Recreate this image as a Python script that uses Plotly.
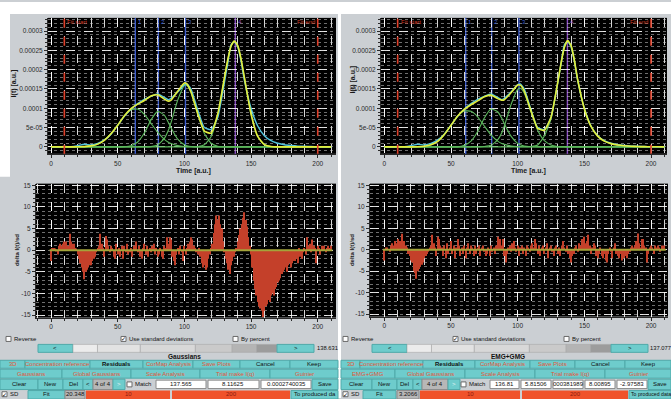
import plotly.graph_objects as go

W, H = 671, 399
FONT = "Liberation Sans"

# ------------------------------------------------------------------ data
TIME = [0, 5, 10, 15, 20, 25, 30, 35, 40, 45,
        50, 55, 60, 65, 70, 75, 80, 85, 88, 90,
        95, 100, 102, 105, 110, 115, 120, 125, 130, 132.5,
        135, 137.5, 140, 142.5, 145, 150, 155, 160, 165, 170,
        175, 180, 185, 190, 195, 200, 205, 210]

# measured intensity (units of 1e-5)
DATA_E5 = [0.05, -0.05, 0.1, 0.05, 0.3, 0.7, 0.5, 0.9, 1.8, 3.3,
           5.6, 7.9, 9.8, 11.2, 12.3, 13.1, 13.7, 12.8, 12.2, 12.6,
           14.2, 16.1, 16.3, 15.0, 9.6, 5.0, 4.5, 7.6, 16.6, 21.5,
           26.4, 27.3, 25.9, 22.2, 17.2, 10.0, 5.4, 2.9, 1.6, 0.95,
           0.55, 0.35, 0.2, 0.15, 0.1, 0.05, 0.05, 0.05]

# Gaussians model (left panel)
FIT_GAUSS_E5 = [0, 0, 0, 0, 0.02, 0.08, 0.26, 0.72, 1.7, 3.4,
                5.6, 8.05, 9.9, 11.06, 12.0, 13.2, 13.5, 12.35, 11.8, 12.1,
                14.4, 16.55, 16.25, 14.2, 8.6, 4.1, 3.55, 8.5, 17.8, 22.5,
                26.1, 27.4, 26.2, 22.8, 18.0, 8.5, 2.7, 0.6, 0.09, 0.01,
                0, 0, 0, 0, 0, 0, 0, 0]
GAUSS_1_E5 = [0, 0, 0, 0, 0.02, 0.08, 0.26, 0.71, 1.68, 3.35,
              5.6, 8.0, 9.6, 9.8, 8.4, 6.1, 3.8, 1.95, 1.2, 0.86,
              0.32, 0.1, 0.06, 0.03, 0, 0, 0, 0, 0, 0,
              0, 0, 0, 0, 0, 0, 0, 0, 0, 0,
              0, 0, 0, 0, 0, 0, 0, 0]
GAUSS_2_E5 = [0, 0, 0, 0, 0, 0, 0, 0, 0, 0,
              0, 0.05, 0.3, 1.26, 3.6, 7.0, 9.2, 8.2, 6.3, 4.95,
              2.0, 0.55, 0.3, 0.1, 0.01, 0, 0, 0, 0, 0,
              0, 0, 0, 0, 0, 0, 0, 0, 0, 0,
              0, 0, 0, 0, 0, 0, 0, 0]
GAUSS_3_E5 = [0, 0, 0, 0, 0, 0, 0, 0, 0, 0,
              0, 0, 0, 0, 0, 0.08, 0.5, 2.2, 4.3, 6.3,
              12.1, 15.9, 15.9, 14.1, 8.5, 3.5, 0.95, 0.18, 0.02, 0,
              0, 0, 0, 0, 0, 0, 0, 0, 0, 0,
              0, 0, 0, 0, 0, 0, 0, 0]
GAUSS_4_E5 = [0, 0, 0, 0, 0, 0, 0, 0, 0, 0,
              0, 0, 0, 0, 0, 0, 0, 0, 0, 0,
              0, 0, 0, 0, 0.08, 0.57, 2.6, 8.3, 17.8, 22.5,
              26.1, 27.4, 26.2, 22.8, 18.0, 8.5, 2.7, 0.6, 0.09, 0.01,
              0, 0, 0, 0, 0, 0, 0, 0]

# EMG+GMG model (right panel)
FIT_EMG_E5 = [0, 0, 0, 0, 0, 0.03, 0.16, 0.55, 1.45, 3.2,
              5.6, 8.0, 9.7, 10.9, 11.9, 13.0, 13.4, 12.5, 12.1, 12.2,
              14.0, 16.0, 16.0, 14.4, 9.3, 4.8, 4.3, 7.7, 16.6, 21.6,
              25.8, 27.5, 26.3, 22.5, 17.4, 9.9, 5.3, 2.8, 1.5, 0.85,
              0.5, 0.3, 0.17, 0.1, 0.06, 0.03, 0.02, 0.01]
EMG_1_E5 = [0, 0, 0, 0, 0, 0.03, 0.16, 0.55, 1.45, 3.2,
            5.6, 8.0, 9.3, 9.2, 7.8, 5.4, 3.1, 1.5, 0.9, 0.65,
            0.25, 0.08, 0.05, 0.02, 0, 0, 0, 0, 0, 0,
            0, 0, 0, 0, 0, 0, 0, 0, 0, 0,
            0, 0, 0, 0, 0, 0, 0, 0]
EMG_2_E5 = [0, 0, 0, 0, 0, 0, 0, 0, 0, 0,
            0, 0, 0.4, 1.5, 4.0, 7.5, 9.8, 9.1, 7.5, 6.0,
            2.8, 0.9, 0.55, 0.22, 0.05, 0, 0, 0, 0, 0,
            0, 0, 0, 0, 0, 0, 0, 0, 0, 0,
            0, 0, 0, 0, 0, 0, 0, 0]
EMG_3_E5 = [0, 0, 0, 0, 0, 0, 0, 0, 0, 0,
            0, 0, 0, 0, 0, 0.1, 0.4, 1.8, 3.6, 5.4,
            10.9, 14.9, 15.2, 13.9, 9.0, 4.3, 1.6, 0.5, 0.12, 0.06,
            0.03, 0, 0, 0, 0, 0, 0, 0, 0, 0,
            0, 0, 0, 0, 0, 0, 0, 0]
EMG_4_E5 = [0, 0, 0, 0, 0, 0, 0, 0, 0, 0,
            0, 0, 0, 0, 0, 0, 0, 0, 0, 0,
            0, 0, 0, 0, 0.1, 0.5, 2.8, 7.2, 16.5, 21.5,
            25.6, 27.5, 26.3, 22.5, 17.4, 9.9, 5.3, 2.8, 1.5, 0.85,
            0.5, 0.3, 0.17, 0.1, 0.06, 0.03, 0.02, 0.01]

RES_T = list(range(0, 211))
RES_GAUSS = [
    -2.5, 0.5, 0.5, 0.2, -0.3, -1.0, 1.0, 1.5, 1.0, 1.5,
    2.0, 2.0, 1.0, 1.0, 3.8, 2.0, 1.5, 1.5, 0.5, 0.2,
    -1.0, -2.0, -3.0, -4.0, -5.0, -6.7, -5.0, -4.5, -4.0, -3.5,
    -3.5, -2.5, -2.0, -1.5, -0.5, 0.5, 1.0, 3.8, 1.5, 0.5,
    -1.5, 3.3, 2.5, 1.0, -0.5, 1.0, 0.5, -1.5, -2.0, 1.5,
    -1.0, 0.5, -1.5, 1.0, -2.0, 1.0, -0.5, 1.5, -1.0, -0.5,
    0.5, -1.5, 1.0, 0.5, 2.0, -0.5, 1.0, -1.5, -2.0, 0.5,
    1.5, -1.0, 1.0, -1.5, 0.5, -0.5, 1.0, 1.5, -1.0, 0.5,
    -1.5, -1.0, 0.5, -1.5, -2.0, 1.0, 0.5, 3.0, 1.5, 3.0,
    2.5, -1.5, -2.5, -3.5, -1.0, 0.5, -1.0, 1.0, -0.5, -2.5,
    1.0, -1.0, 0.5, 1.5, 2.0, 3.0, 2.5, 1.0, 0.5, -0.5,
    -1.0, 0.5, -1.5, -3.0, -4.0, -3.5, -4.5, -4.0, -2.0, -1.0,
    0.5, 1.5, 4.0, 6.0, 8.0, 7.0, 8.0, 6.0, 5.0, 2.0,
    -0.5, -2.0, -3.0, -4.5, -5.5, -3.5, -2.5, -1.5, -0.5, 0.5,
    2.0, 3.5, 5.0, 6.0, 7.5, 8.8, 7.0, 5.5, 3.0, 1.0,
    -1.0, -4.0, -7.0, -9.0, -10.5, -12.0, -13.0, -13.5, -14.0, -15.5,
    -14.0, -13.0, -12.5, -11.5, -12.0, -10.5, -10.0, -10.5, -9.0, -8.5,
    -7.5, -7.0, -6.5, -5.5, -5.0, -4.5, -4.0, -5.0, -3.5, -3.0,
    -4.0, -3.0, -2.5, -2.5, -2.0, -3.0, 0.5, -1.5, -2.0, -0.5,
    0.5, -1.0, 3.0, 1.0, 1.5, -0.5, 2.5, 1.0, 0.5, -3.0,
    1.0, 0.5, -1.0, 1.0, 0.5, 1.0, -0.5, 0.5, 1.0, 0.5,
    1.0]
RES_EMG = [
    -2.5, 0.5, 0.5, 0.0, -0.5, 1.0, 1.5, 1.0, 2.0, 1.5,
    2.5, 1.0, 2.0, 3.7, 1.5, 2.0, 1.0, 0.5, -1.0, -1.5,
    -2.5, -3.0, -5.0, -5.5, -6.8, -5.0, -4.5, -4.0, -3.5, -3.0,
    -2.0, -1.5, -1.0, -0.5, 0.5, 1.0, 3.5, 1.5, 0.5, -1.5,
    3.0, 2.5, 1.0, 0.5, -1.5, 1.0, -2.0, 1.5, -1.0, 0.5,
    2.0, -1.0, 1.0, -2.0, 0.5, 2.5, 1.0, -1.5, 0.5, -1.0,
    1.0, -2.0, 0.5, 1.5, -1.0, 1.0, 0.5, -1.5, 1.0, -1.0,
    0.5, 1.0, -1.5, 0.5, 1.0, -0.5, -1.5, -1.0, 0.5, -1.5,
    1.0, -0.5, 0.5, -1.0, 1.0, 3.0, 1.5, 2.5, 1.0, 2.5,
    -1.5, -3.0, -1.0, 0.5, 1.0, -0.5, 1.5, 2.0, 0.5, -0.5,
    1.0, -1.5, 0.5, 1.0, -1.0, 0.5, -1.5, 1.0, 0.5, -0.5,
    1.0, 1.5, 0.5, 2.5, 1.5, -1.0, 1.0, -1.5, 0.5, 1.0,
    -1.0, 0.5, 1.5, -2.0, 0.5, 1.0, -0.5, -1.5, 0.5, 1.0,
    -1.0, 0.5, -1.5, 1.0, 2.0, 0.5, -0.5, 1.0, -1.0, -2.0,
    -3.0, -1.5, -1.0, 0.5, 1.0, -0.5, 1.5, 1.0, 2.5, 1.0,
    3.0, 1.5, 2.0, 3.5, 1.0, -1.0, 0.5, 1.5, 1.0, -1.5,
    -2.0, -1.0, 0.5, -1.5, -2.0, -1.0, -2.5, -3.0, -1.0, 0.5,
    -0.5, -2.0, 0.5, 1.5, -1.0, -1.5, -2.0, -1.0, -2.5, -1.0,
    -2.0, -1.5, -2.0, -1.0, -0.5, 0.5, 1.0, 0.5, 1.0, 2.0,
    3.8, 1.5, 0.5, 2.5, 2.5, 1.0, 0.5, -3.0, -1.0, 0.5,
    1.0, 0.5, -1.0, 1.0, 0.5, 1.0, 0.5, -0.5, 1.0, 0.5,
    1.0]

LIMITS = [10, 200]
LIMIT_LABELS = ["Fit start", "Fit end"]
CENTERS_GAUSS = [63.2, 80.5, 100.8, 138.2]
CENTERS_EMG = [61.0, 80.5, 101.0, 137.3]
PEAK_LABELS = ["1", "2", "3", "4"]

X_TICKS = [0, 50, 100, 150, 200]
Y_TICKS = [0, 5e-5, 1e-4, 1.5e-4, 2e-4, 2.5e-4, 3e-4]
Y_TICK_LABELS = ["0", "5e-05", "0.0001", "0.00015", "0.0002", "0.00025", "0.0003"]
RES_TICKS = [-15, -10, -5, 0, 5, 10, 15]

FIELDS_GAUSS = ["137.565", "8.11625", "0.0002740035"]
FIELDS_EMG = ["136.81", "5.81506", "000381989", "8.00895", "-2.97583"]
SLIDER_GAUSS, SLIDER_EMG = "138.631", "137.077"
CHI_GAUSS, CHI_EMG = "20.348", "3.2066"

SCALE = 1e-5


def scaled(v):
    return [a * SCALE for a in v]


# ------------------------------------------------------------------ helpers
def px(x):
    return x / W


def py(y):
    return 1 - y / H


shapes, annos = [], []


def rect(x0, y0, x1, y1, fill, line=None, lw=0):
    shapes.append(dict(type="rect", xref="paper", yref="paper",
                       x0=px(x0), x1=px(x1), y0=py(y1), y1=py(y0),
                       fillcolor=fill, layer="above",
                       line=dict(color=line or fill, width=lw)))


def text(x, y, s, size=6, color="#111", anchor="center", angle=0, family=FONT):
    annos.append(dict(xref="paper", yref="paper", x=px(x), y=py(y), text=s,
                      showarrow=False, xanchor=anchor, yanchor="middle", borderpad=0,
                      textangle=angle, font=dict(size=size, color=color, family=family)))


TEAL, TEAL_LINE = "#6ecccc", "#4fa9a9"
ORANGE_TXT = "#e2553a"
PANEL = "#cbcfd3"


def button(x0, x1, y0, y1, label, color="#111", fill=TEAL):
    rect(x0, y0, x1, y1, fill, TEAL_LINE if fill == TEAL else "#8a8a8a", 1)
    text((x0 + x1) / 2, (y0 + y1) / 2, label, 6, color)


def checkbox(x, y, checked):
    rect(x, y - 2.5, x + 5, y + 2.5, "white", "#6a6a6a", 1)
    if checked:
        text(x + 2.6, y, "✓", 6, "#000", family="DejaVu Sans")


def slider(x0, x1, y0, y1):
    shades = ["#ececec", "#e2e2e2", "#d8d8d8", "#cacaca", "#b4b4b4", "#9c9c9c"]
    fr = [0, 0.12, 0.33, 0.6, 0.78, 0.9, 1.0]
    for i, c in enumerate(shades):
        rect(x0 + (x1 - x0) * fr[i], y0, x0 + (x1 - x0) * fr[i + 1], y1, c, "#a8a8a8", 0.6)


# ------------------------------------------------------------------ white page margins
rect(0, 0, 671, 12, "white")
rect(0, 12, 10, 176, "white")
rect(338, 0, 341, 399, "white")

# ------------------------------------------------------------------ figure
fig = go.Figure()

comp_color = "#5cb85c"
panels = [
    ("x", "y", FIT_GAUSS_E5, [GAUSS_1_E5, GAUSS_2_E5, GAUSS_3_E5, GAUSS_4_E5]),
    ("x2", "y2", FIT_EMG_E5, [EMG_1_E5, EMG_2_E5, EMG_3_E5, EMG_4_E5]),
]
for xa, ya, fit, comps in panels:
    for c in comps:
        fig.add_trace(go.Scatter(x=TIME, y=scaled(c), mode="lines", xaxis=xa, yaxis=ya,
                                 line=dict(color=comp_color, width=1.1, shape="spline", smoothing=0.5),
                                 hoverinfo="skip"))
    fig.add_trace(go.Scatter(x=TIME, y=scaled(DATA_E5), mode="lines", xaxis=xa, yaxis=ya,
                             line=dict(color="#52c4de", width=1.4, shape="spline", smoothing=0.5)))
    fig.add_trace(go.Scatter(x=TIME, y=scaled(fit), mode="lines", xaxis=xa, yaxis=ya,
                             line=dict(color="#e4ee3c", width=1.6, shape="spline", smoothing=0.5)))

for xa, ya, res in [("x3", "y3", RES_GAUSS), ("x4", "y4", RES_EMG)]:
    fig.add_trace(go.Bar(x=RES_T, y=res, xaxis=xa, yaxis=ya, width=0.75,
                         marker=dict(color="#c4402a", line=dict(width=0))))
    shapes.append(dict(type="line", xref=xa, yref=ya, x0=min(RES_T) - 1, x1=max(RES_T) + 1,
                       y0=0, y1=0, line=dict(color="#a4a43a", width=2), layer="above"))

# vertical marker lines + labels
for xa, centers in [("x", CENTERS_GAUSS), ("x2", CENTERS_EMG)]:
    for i, lim in enumerate(LIMITS):
        shapes.append(dict(type="line", xref=xa, yref=xa.replace("x", "y") + " domain",
                           x0=lim, x1=lim, y0=0, y1=1, layer="above",
                           line=dict(color="#e0402a", width=1.6, dash="dash")))
        annos.append(dict(xref=xa, yref="paper", x=lim + (1.5 if i == 0 else -1.5), y=py(20),
                          text=LIMIT_LABELS[i], showarrow=False, borderpad=0,
                          xanchor="left" if i == 0 else "right", yanchor="middle",
                          font=dict(size=6, color="#d23a24", family=FONT)))
    for j, c in enumerate(centers):
        col = "#8a4cc4" if j == 3 else "#3f5fd0"
        shapes.append(dict(type="line", xref=xa, yref=xa.replace("x", "y") + " domain",
                           x0=c, x1=c, y0=0, y1=1, layer="below",
                           line=dict(color=col, width=1.4)))
        annos.append(dict(xref=xa, yref="paper", x=c + 1.2, y=py(20), text=PEAK_LABELS[j],
                          showarrow=False, xanchor="left", yanchor="middle", borderpad=0,
                          font=dict(size=6, color=col, family=FONT)))

tickfont = dict(size=6.5, color="#2a2a2a", family=FONT)
GRID_MAJ = "rgba(255,255,255,0.85)"
GRID_MIN = "rgba(200,200,200,0.55)"


def xaxis(dom, rng, anchor):
    return dict(domain=[px(dom[0]), px(dom[1])], range=rng, anchor=anchor,
                tickmode="array", tickvals=X_TICKS, ticktext=[str(v) for v in X_TICKS],
                showline=True, linecolor="#2a2a2a", linewidth=1, ticks="outside", ticklen=3,
                tickcolor="#2a2a2a", tickfont=tickfont, zeroline=False,
                showgrid=True, gridcolor=GRID_MAJ, griddash="dash", gridwidth=1,
                minor=dict(dtick=10, tick0=0, ticks="outside", ticklen=2, tickcolor="#2a2a2a",
                           showgrid=True, gridcolor=GRID_MAJ, griddash="dash", gridwidth=1))


def yaxis(dom, rng, anchor, vals, labels, minor_step):
    return dict(domain=[py(dom[1]), py(dom[0])], range=rng, anchor=anchor,
                tickmode="array", tickvals=vals, ticktext=labels,
                showline=True, linecolor="#2a2a2a", linewidth=1, ticks="outside", ticklen=3,
                tickcolor="#2a2a2a", tickfont=tickfont, zeroline=False,
                showgrid=True, gridcolor=GRID_MAJ, griddash="dash", gridwidth=1,
                minor=dict(dtick=minor_step, tick0=0, ticks="outside", ticklen=2,
                           tickcolor="#2a2a2a", showgrid=True, gridcolor=GRID_MIN,
                           griddash="dot", gridwidth=1))


TOP_Y = [-1.8e-5, 3.34e-4]
RES_Y = [-15.6, 15.4]
RES_LABELS = [str(v) for v in RES_TICKS]

fig.update_layout(
    width=W, height=H, margin=dict(l=0, r=0, t=0, b=0),
    paper_bgcolor=PANEL, plot_bgcolor="black", showlegend=False,
    font=dict(family=FONT),
    xaxis=xaxis((48, 336), [-2.25, 213.7], "y"),
    yaxis=yaxis((16, 153), TOP_Y, "x", Y_TICKS, Y_TICK_LABELS, 1e-5),
    xaxis2=xaxis((381, 667), [-2.5, 212.0], "y2"),
    yaxis2=yaxis((16, 153), TOP_Y, "x2", Y_TICKS, Y_TICK_LABELS, 1e-5),
    xaxis3=xaxis((36, 336), [-11.25, 213.7], "y3"),
    yaxis3=yaxis((183, 318), RES_Y, "x3", RES_TICKS, RES_LABELS, 1),
    xaxis4=xaxis((370, 668), [-10.7, 212.7], "y4"),
    yaxis4=yaxis((183, 317), RES_Y, "x4", RES_TICKS, RES_LABELS, 1),
)

# axis titles
for ox in (0, 335):
    text(193 + ox, 170, "<b>Time [a.u.]</b>", 7, "#1a1a1a")
text(14, 82, "<b>I(t) [a.u.]</b>", 7, "#1a1a1a", angle=-90)
text(353, 78, "<b>I(t) [a.u.]</b>", 7, "#1a1a1a", angle=-90)
text(17, 250, "<b>delta I(t)/sd</b>", 6, "#1a1a1a", angle=-90)
text(352, 250, "<b>delta I(t)/sd</b>", 6, "#1a1a1a", angle=-90)

# ------------------------------------------------------------------ control panels
RA, RB, RC, RD, RE, RF = 339.5, (345, 353), (361, 369), (370, 379), (380, 390.5), (391.5, 400)
FY = 395.2

# left panel (Gaussians)
checkbox(6, RA, False); text(13, RA, "Reverse", 6, anchor="left")
checkbox(121, RA, True); text(128, RA, "Use standard deviations", 6, anchor="left")
checkbox(233, RA, False); text(240, RA, "By percent", 6, anchor="left")
button(38, 73, *RB, "&lt;")
slider(73, 277, *RB)
button(277, 314, *RB, "&gt;")
text(315.5, 349, SLIDER_GAUSS, 5.8, anchor="left")
text(185, 357, "<b>Gaussians</b>", 6.5, "#111")

rowc = [(0, 25, "3D", ORANGE_TXT), (25, 90, "Concentration reference", ORANGE_TXT),
        (90, 143, "<b>Residuals</b>", "#111"), (143, 193, "CorMap Analysis", ORANGE_TXT),
        (193, 240, "Save Plots", ORANGE_TXT), (240, 290, "Cancel", "#111"), (290, 338, "Keep", "#111")]
for a, b, s, c in rowc:
    button(a, b, *RC, s, c)
rowd = [(0, 62, "Gaussians"), (62, 131, "Global Gaussians"), (131, 200, "Scale Analysis"),
        (200, 270, "Trial make I(q)"), (270, 338, "Guinier")]
for a, b, s in rowd:
    button(a, b, *RD, s, ORANGE_TXT)
button(0, 38, *RE, "Clear"); button(38, 63, *RE, "New"); button(63, 83, *RE, "Del")
button(83, 93, *RE, "&lt;"); button(93, 113, *RE, "4 of 4", fill="#b7b7b7")
button(113, 125, *RE, "&gt;", "#e8f4f4")
checkbox(127, 385.3, False); text(134, 385.3, "Match", 6, anchor="left")
for (a, b), s in zip([(155, 207), (207, 260), (260, 312)], FIELDS_GAUSS):
    rect(a + 1, RE[0] + 1, b - 1, RE[1] - 1, "white", "#8a8a8a", 1)
    text((a + b) / 2, 385.3, s, 6)
button(312, 338, *RE, "Save")
checkbox(2, FY, True); text(9, FY, "SD", 6, anchor="left")
rect(28, RF[0], 65, RF[1], TEAL, TEAL_LINE, 1); text(46, FY, "Fit", 6)
rect(65, RF[0], 85, RF[1], "#b7b7b7", "#8a8a8a", 1); text(75, FY, CHI_GAUSS, 6)
rect(86, RF[0], 170, RF[1], "#f0522a"); text(128, FY, "10", 6, "#8a1a10")
rect(172, RF[0], 290, RF[1], "#f0522a"); text(231, FY, "200", 6, "#8a1a10")
rect(291, RF[0], 338, RF[1], TEAL, TEAL_LINE, 1); text(293, FY, "To produced da", 6, anchor="left")

# right panel (EMG+GMG)
checkbox(343, RA, False); text(350, RA, "Reverse", 6, anchor="left")
checkbox(453, RA, True); text(460, RA, "Use standard deviations", 6, anchor="left")
checkbox(564, RA, False); text(571, RA, "By percent", 6, anchor="left")
button(372, 407, *RB, "&lt;")
slider(407, 611, *RB)
button(611, 648, *RB, "&gt;")
text(649, 349, SLIDER_EMG, 5.8, anchor="left")
text(508, 357, "<b>EMG+GMG</b>", 6.5, "#111")

rowc = [(341, 360, "3D", ORANGE_TXT), (360, 423, "Concentration reference", ORANGE_TXT),
        (423, 475, "<b>Residuals</b>", "#111"), (475, 530, "CorMap Analysis", ORANGE_TXT),
        (530, 575, "Save Plots", ORANGE_TXT), (575, 625, "Cancel", "#111"), (625, 671, "Keep", "#111")]
for a, b, s, c in rowc:
    button(a, b, *RC, s, c)
rowd = [(341, 395, "EMG+GMG"), (395, 465, "Global Gaussians"), (465, 535, "Scale Analysis"),
        (535, 605, "Trial make I(q)"), (605, 671, "Guinier")]
for a, b, s in rowd:
    button(a, b, *RD, s, ORANGE_TXT)
button(341, 372, *RE, "Clear"); button(372, 397, *RE, "New"); button(397, 413, *RE, "Del")
button(413, 422, *RE, "&lt;"); button(422, 448, *RE, "4 of 4", fill="#b7b7b7")
button(448, 460, *RE, "&gt;", "#e8f4f4")
checkbox(461, 385.3, False); text(468, 385.3, "Match", 6, anchor="left")
for (a, b), s in zip([(489, 520), (520, 552), (552, 584), (584, 616), (616, 648)], FIELDS_EMG):
    rect(a + 1, RE[0] + 1, b - 1, RE[1] - 1, "white", "#8a8a8a", 1)
    text((a + b) / 2, 385.3, s, 6)
button(648, 671, *RE, "Save")
checkbox(343, FY, True); text(350, FY, "SD", 6, anchor="left")
rect(363, RF[0], 396, RF[1], TEAL, TEAL_LINE, 1); text(379, FY, "Fit", 6)
rect(397, RF[0], 419, RF[1], "#b7b7b7", "#8a8a8a", 1); text(408, FY, CHI_EMG, 6)
rect(420, RF[0], 520, RF[1], "#f0522a"); text(470, FY, "10", 6, "#8a1a10")
rect(522, RF[0], 628, RF[1], "#f0522a"); text(575, FY, "200", 6, "#8a1a10")
rect(629, RF[0], 671, RF[1], TEAL, TEAL_LINE, 1); text(630, FY, "To produced data", 5.2, anchor="left")

fig.update_layout(shapes=shapes, annotations=annos)
fig.write_html(
    "out.html",
    config={"displayModeBar": False},
    post_script="document.body.style.margin='0';document.body.style.overflow='hidden';",
)
